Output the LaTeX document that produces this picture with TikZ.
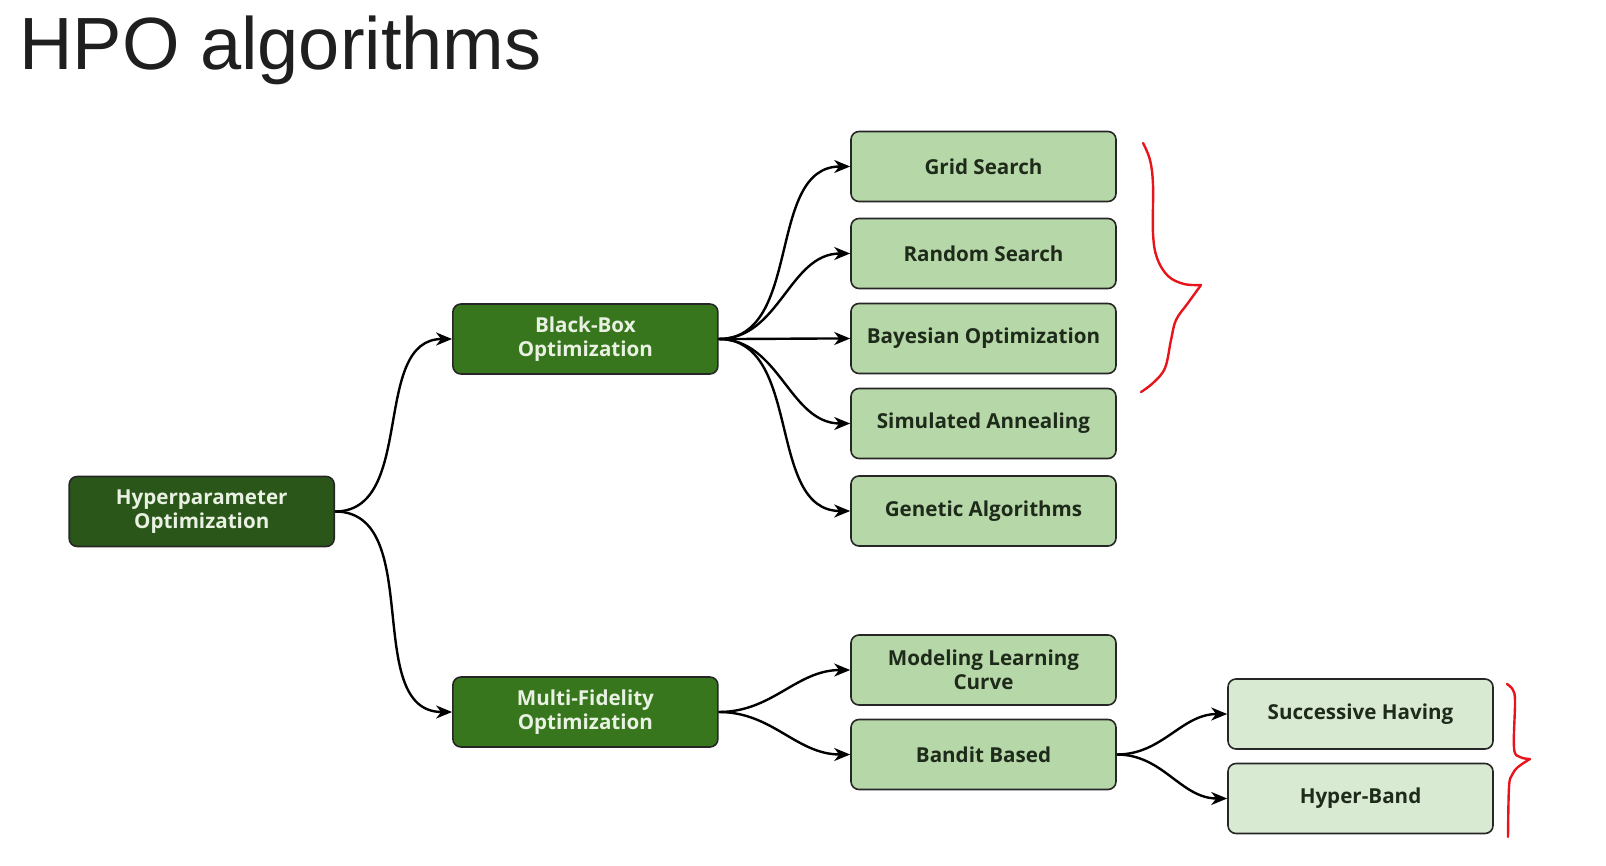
\documentclass[tikz,border=0pt]{standalone}
\usepackage{fontspec}
\usepackage{tikz}
\usetikzlibrary{arrows.meta}
\newfontfamily\titlefont{Liberation Sans}
\newfontfamily\boxfont{Open Sans}
\definecolor{hpogreen}{HTML}{2B5619}
\definecolor{midgreen}{HTML}{38761D}
\definecolor{leafgreen}{HTML}{B6D7A8}
\definecolor{palegreen}{HTML}{D9EAD3}
\definecolor{boxtext}{HTML}{E8F1E2}
\definecolor{leaftext}{HTML}{1E2A1A}
\definecolor{markred}{HTML}{E8141B}

\begin{document}
\begin{tikzpicture}[x=0.5pt,y=0.5pt]
            \tikzstyle{every node}+=[inner sep=0pt]
            \tikzstyle{algbox}=[draw=black!85, line width=0.8pt, rounded corners=4pt,
                minimum width=132.5pt, minimum height=35pt, align=center,
                font=\boxfont\bfseries\fontsize{10.3}{12.2}\selectfont]
            \tikzstyle{rootbox}=[algbox, fill=hpogreen, text=boxtext]
            \tikzstyle{groupbox}=[algbox, fill=midgreen, text=boxtext]
            \tikzstyle{leafbox}=[algbox, fill=leafgreen, text=leaftext]
            \tikzstyle{subbox}=[algbox, fill=palegreen, text=leaftext]
            \tikzstyle{branch}=[draw=black, line width=1.2pt, -{Stealth[length=8pt,width=6.5pt,inset=2.5pt]}]
            \tikzstyle{redmark}=[draw=markred, line width=1.2pt, line cap=round, line join=round]
            \useasboundingbox (0,0) rectangle (1606,-866);
            % title
            \node [anchor=base west, font=\titlefont\fontsize{37}{40}\selectfont, text=black!88] (title) at (19,-70) {HPO algorithms};
            % boxes
            \node [rootbox] (hpo) at (201.7,-511.5) {Hyperparameter\\Optimization};
            \node [groupbox] (blackbox) at (585.4,-339) {Black-Box\\Optimization};
            \node [groupbox] (multifid) at (585.4,-712) {Multi-Fidelity\\Optimization};
            \node [leafbox] (grid) at (983.5,-166.5) {Grid Search};
            \node [leafbox] (random) at (983.5,-253.5) {Random Search};
            \node [leafbox] (bayes) at (983.5,-338.5) {Bayesian Optimization};
            \node [leafbox] (anneal) at (983.5,-423.5) {Simulated Annealing};
            \node [leafbox] (genetic) at (983.5,-511) {Genetic Algorithms};
            \node [leafbox] (curve) at (983.5,-670) {Modeling Learning\\Curve};
            \node [leafbox] (bandit) at (983.5,-754.5) {Bandit Based};
            \node [subbox] (halving) at (1360.5,-714) {Successive Having};
            \node [subbox] (hyperband) at (1360.5,-798.5) {Hyper-Band};
            % connectors
            \draw [branch] (hpo.east) to [out=0,in=180] (blackbox.west);
            \draw [branch] (hpo.east) to [out=0,in=180] (multifid.west);
            \foreach \leaf in {grid,random,bayes,anneal,genetic}
                \draw [branch] (blackbox.east) to [out=0,in=180] (\leaf.west);
            \draw [branch] (multifid.east) to [out=0,in=180] (curve.west);
            \draw [branch] (multifid.east) to [out=0,in=180] (bandit.west);
            \draw [branch] (bandit.east) to [out=0,in=180] (halving.west);
            \draw [branch] (bandit.east) to [out=0,in=180] (hyperband.west);
            % hand drawn braces
            \draw [redmark] plot [smooth, tension=0.6] coordinates {(1143,-143) (1150,-160) (1153,-185) (1153,-233) (1157,-258) (1168,-276) (1184,-284) (1201,-285)};
            \draw [redmark] plot [smooth, tension=0.6] coordinates {(1201,-285) (1188,-303) (1176,-320) (1171,-340) (1165,-368) (1153,-383) (1141,-392)};
            \draw [redmark] plot [smooth, tension=0.6] coordinates {(1507,-684) (1513,-690) (1515,-702) (1514,-748) (1520,-757) (1530,-759)};
            \draw [redmark] plot [smooth, tension=0.6] coordinates {(1530,-759) (1518,-767) (1512,-775) (1509,-787) (1508,-837)};
          \end{tikzpicture}
\end{document}
